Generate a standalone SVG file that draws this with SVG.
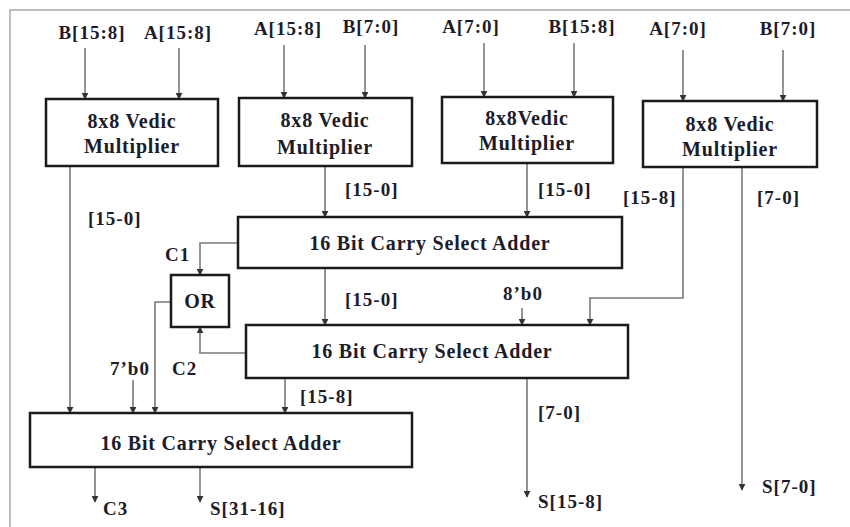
<svg xmlns="http://www.w3.org/2000/svg" width="850" height="527" viewBox="0 0 850 527">
<defs>
<marker id="ah" viewBox="0 0 10 10" refX="9" refY="5" markerWidth="7" markerHeight="7" markerUnits="userSpaceOnUse" orient="auto">
<path d="M0,0 L10,5 L0,10 z" fill="#333"/>
</marker>
</defs>
<style>
.box{fill:#fff;stroke:#1a1a1a;stroke-width:2.5}
.frame{fill:none;stroke:#bdbdbd;stroke-width:2}
.con{fill:none;stroke:#7a7a7a;stroke-width:1.6;marker-end:url(#ah)}
.t{font-family:"Liberation Serif","Times New Roman",serif;font-weight:bold;fill:#1c1c2a}
.lbl{font-size:19px;letter-spacing:1px}
.c{text-anchor:middle}
.bt{font-size:20px;letter-spacing:0.8px;text-anchor:middle}
</style>
<rect class="frame" x="10" y="10" width="850" height="530"/>
<g id="connectors">
<line class="con" x1="85" y1="48" x2="85" y2="99"/>
<line class="con" x1="179" y1="48" x2="179" y2="99"/>
<line class="con" x1="284" y1="45" x2="284" y2="98"/>
<line class="con" x1="365" y1="45" x2="365" y2="98"/>
<line class="con" x1="484" y1="43" x2="484" y2="97"/>
<line class="con" x1="574" y1="43" x2="574" y2="97"/>
<line class="con" x1="683" y1="50" x2="683" y2="101"/>
<line class="con" x1="783" y1="50" x2="783" y2="101"/>
<line class="con" x1="70" y1="166" x2="70" y2="413"/>
<line class="con" x1="325" y1="166" x2="325" y2="217"/>
<line class="con" x1="527" y1="163" x2="527" y2="217"/>
<polyline class="con" points="238,243 200,243 200,275"/>
<line class="con" x1="325" y1="268" x2="325" y2="325"/>
<polyline class="con" points="246,353 200,353 200,327"/>
<polyline class="con" points="171,302 155,302 155,413"/>
<line class="con" x1="133" y1="380" x2="133" y2="413"/>
<line class="con" x1="522" y1="308" x2="522" y2="325"/>
<polyline class="con" points="683,167 683,298 590,298 590,325"/>
<line class="con" x1="742" y1="167" x2="742" y2="490"/>
<line class="con" x1="285" y1="378" x2="285" y2="413"/>
<line class="con" x1="527" y1="378" x2="527" y2="497"/>
<line class="con" x1="95" y1="467" x2="95" y2="502"/>
<line class="con" x1="200" y1="467" x2="200" y2="502"/>
</g>
<g id="mult1"><rect class="box" x="46" y="99" width="172" height="67"/><text class="t bt" x="132" y="128">8x8 Vedic</text><text class="t bt" x="132" y="153">Multiplier</text></g>
<g id="mult2"><rect class="box" x="239" y="98" width="173" height="68"/><text class="t bt" x="325" y="127">8x8 Vedic</text><text class="t bt" x="325" y="154">Multiplier</text></g>
<g id="mult3"><rect class="box" x="442" y="97" width="171" height="66"/><text class="t bt" x="527" y="125">8x8Vedic</text><text class="t bt" x="527" y="150">Multiplier</text></g>
<g id="mult4"><rect class="box" x="643" y="101" width="174" height="66"/><text class="t bt" x="730" y="131">8x8 Vedic</text><text class="t bt" x="730" y="156">Multiplier</text></g>
<g id="csa1"><rect class="box" x="238" y="217" width="384" height="51"/><text class="t bt" x="430" y="250">16 Bit Carry Select Adder</text></g>
<g id="or"><rect class="box" x="171" y="275" width="58" height="52"/><text class="t bt" x="200" y="308">OR</text></g>
<g id="csa2"><rect class="box" x="246" y="325" width="382" height="53"/><text class="t bt" x="432" y="358">16 Bit Carry Select Adder</text></g>
<g id="csa3"><rect class="box" x="30" y="413" width="382" height="54"/><text class="t bt" x="221" y="450">16 Bit Carry Select Adder</text></g>
<g id="labels">
<text class="t lbl c" x="92" y="39">B[15:8]</text>
<text class="t lbl c" x="178" y="39">A[15:8]</text>
<text class="t lbl c" x="288" y="35">A[15:8]</text>
<text class="t lbl c" x="371" y="33">B[7:0]</text>
<text class="t lbl c" x="471" y="33">A[7:0]</text>
<text class="t lbl c" x="582" y="33">B[15:8]</text>
<text class="t lbl c" x="678" y="35">A[7:0]</text>
<text class="t lbl c" x="788" y="35">B[7:0]</text>
<text class="t lbl" x="88" y="225">[15-0]</text>
<text class="t lbl" x="345" y="196">[15-0]</text>
<text class="t lbl" x="538" y="196">[15-0]</text>
<text class="t lbl" x="623" y="204">[15-8]</text>
<text class="t lbl" x="757" y="204">[7-0]</text>
<text class="t lbl" x="165" y="261">C1</text>
<text class="t lbl" x="345" y="306">[15-0]</text>
<text class="t lbl" x="503" y="300">8’b0</text>
<text class="t lbl" x="110" y="375">7’b0</text>
<text class="t lbl" x="172" y="375">C2</text>
<text class="t lbl" x="300" y="403">[15-8]</text>
<text class="t lbl" x="538" y="419">[7-0]</text>
<text class="t lbl" x="103" y="515">C3</text>
<text class="t lbl" x="210" y="515">S[31-16]</text>
<text class="t lbl" x="538" y="508">S[15-8]</text>
<text class="t lbl" x="762" y="493">S[7-0]</text>
</g>
</svg>
